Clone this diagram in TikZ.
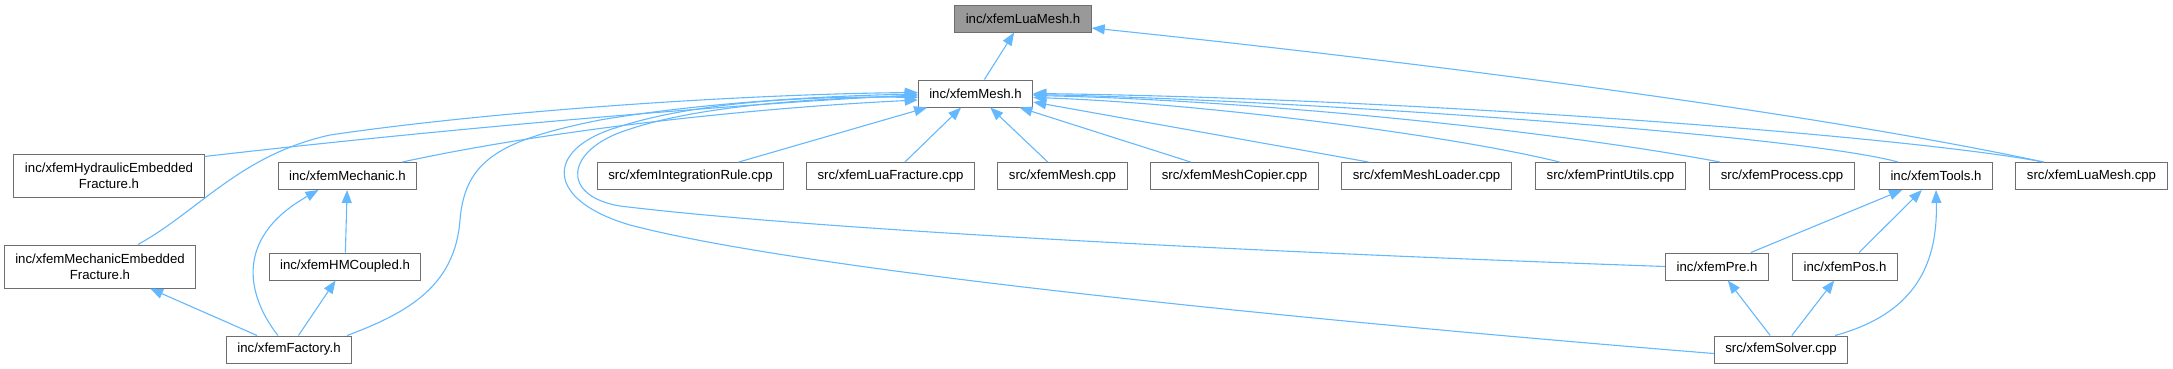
\documentclass[tikz,border=0pt]{standalone}
\usepackage{fontspec}
\setmainfont{Liberation Sans}
\usepackage{xcolor}
\definecolor{cinzaEsc}{RGB}{110,110,110}
\definecolor{cinzaMed}{RGB}{153,153,153}
\definecolor{azulCeu}{RGB}{99,184,255}
\usepackage{tikz}
\usetikzlibrary{arrows.meta}

\begin{document}
\begin{tikzpicture}[x=1pt, y=-1pt,
    ficheiro/.style={draw=cinzaEsc, fill=white, line width=1pt,
      inner xsep=11pt, inner ysep=0pt, minimum height=27pt,
      font=\fontsize{13.2}{16}\selectfont, align=center},
    foco/.style={ficheiro, fill=cinzaMed},
    inclui/.style={draw=azulCeu, line width=1.1pt,
      -{Triangle[length=13pt, width=10pt]}}]
  \useasboundingbox (0,0) rectangle (2173,368);

  % ficheiros
  \node[foco] (luamesh_h) at (1023,18.5) {inc/xfemLuaMesh.h};
  \node[ficheiro] (mesh_h) at (975.5,93.5) {inc/xfemMesh.h};

  \node[ficheiro, minimum height=43pt] (hidraulica) at (109,175.5)
    {inc/xfemHydraulicEmbedded\\Fracture.h};
  \node[ficheiro] (mecanica) at (347.5,176) {inc/xfemMechanic.h};
  \node[ficheiro] (integ) at (690.5,176) {src/xfemIntegrationRule.cpp};
  \node[ficheiro] (luafrac) at (890.5,176) {src/xfemLuaFracture.cpp};
  \node[ficheiro] (mesh_cpp) at (1062.5,176) {src/xfemMesh.cpp};
  \node[ficheiro] (copier) at (1234.5,176) {src/xfemMeshCopier.cpp};
  \node[ficheiro] (loader) at (1426.5,176) {src/xfemMeshLoader.cpp};
  \node[ficheiro] (printutils) at (1610.5,176) {src/xfemPrintUtils.cpp};
  \node[ficheiro] (process) at (1782,176) {src/xfemProcess.cpp};
  \node[ficheiro] (tools) at (1936,176) {inc/xfemTools.h};
  \node[ficheiro] (luamesh_cpp) at (2091.5,176) {src/xfemLuaMesh.cpp};

  \node[ficheiro, minimum height=43pt] (mecemb) at (100,266.5)
    {inc/xfemMechanicEmbedded\\Fracture.h};
  \node[ficheiro] (hmcoupled) at (345,266.5) {inc/xfemHMCoupled.h};
  \node[ficheiro] (pre) at (1717,266.5) {inc/xfemPre.h};
  \node[ficheiro] (pos) at (1845,266.5) {inc/xfemPos.h};

  \node[ficheiro] (factory) at (289,349.5) {inc/xfemFactory.h};
  \node[ficheiro] (solver) at (1781,349.5) {src/xfemSolver.cpp};

  % dependencias
  \draw[inclui] (mesh_h) -- (luamesh_h);
  \draw[inclui] ([xshift=-48pt]luamesh_cpp.north)
    .. controls (1800,110) and (1400,60) .. ([yshift=-9.5pt]luamesh_h.east);

  \draw[inclui] ([yshift=-3pt]hidraulica.north east)
    .. controls (450,128) and (750,103) .. ([yshift=-1.5pt]mesh_h.west);
  \draw[inclui] ([xshift=-15pt]mecanica.north east)
    .. controls (550,130) and (750,108) .. ([yshift=-6.5pt]mesh_h.west);
  \draw[inclui] ([xshift=38pt]mecemb.north)
    .. controls (200,210) and (240,155) .. (330,135)
    .. controls (500,110) and (750,94) .. ([yshift=1pt]mesh_h.west);
  \draw[inclui] ([xshift=-5pt]factory.north east)
    .. controls (410,312) and (455,285) .. (460,220)
    .. controls (465,160) and (500,140) .. (600,120)
    .. controls (700,103) and (820,96) .. ([yshift=-0.5pt]mesh_h.west);
  \draw[inclui] (pre.west)
    .. controls (1200,250) and (800,228) .. (620,206)
    .. controls (560,196) and (565,150) .. (627,130)
    .. controls (700,105) and (820,98) .. ([yshift=-2.5pt]mesh_h.west);
  \draw[inclui] ([yshift=-4pt]solver.west)
    .. controls (1300,320) and (800,270) .. (630,225)
    .. controls (545,200) and (545,150) .. (615,128)
    .. controls (700,100) and (820,96) .. ([yshift=-4pt]mesh_h.west);

  \draw[inclui] (integ) -- (mesh_h);
  \draw[inclui] (luafrac) -- (mesh_h);
  \draw[inclui] (mesh_cpp) -- (mesh_h);
  \draw[inclui] (copier) -- (mesh_h);
  \draw[inclui] ([xshift=-58pt]loader.north) -- ([yshift=-8.5pt]mesh_h.east);
  \draw[inclui] ([xshift=-51pt]printutils.north)
    .. controls (1450,135) and (1200,103) .. ([yshift=-4pt]mesh_h.east);
  \draw[inclui] ([xshift=-62pt]process.north)
    .. controls (1550,130) and (1250,100) .. ([yshift=-2pt]mesh_h.east);
  \draw[inclui] ([xshift=-38pt]tools.north)
    .. controls (1800,135) and (1300,100) .. ([yshift=-1pt]mesh_h.east);
  \draw[inclui] ([xshift=-48pt]luamesh_cpp.north)
    .. controls (1900,135) and (1400,98) .. (mesh_h.east);

  \draw[inclui] (factory) -- (mecemb);
  \draw[inclui] ([xshift=-11pt]factory.north)
    .. controls (250,300) and (230,240) .. ([xshift=-29pt]mecanica.south);
  \draw[inclui] (hmcoupled) -- (mecanica);
  \draw[inclui] (factory) -- (hmcoupled);

  \draw[inclui] (pre) -- (tools);
  \draw[inclui] (pos) -- (tools);
  \draw[inclui] ([xshift=54pt]solver.north)
    .. controls (1910,315) and (1938,270) .. (tools.south);
  \draw[inclui] (solver) -- (pre);
  \draw[inclui] (solver) -- (pos);
\end{tikzpicture}
\end{document}
